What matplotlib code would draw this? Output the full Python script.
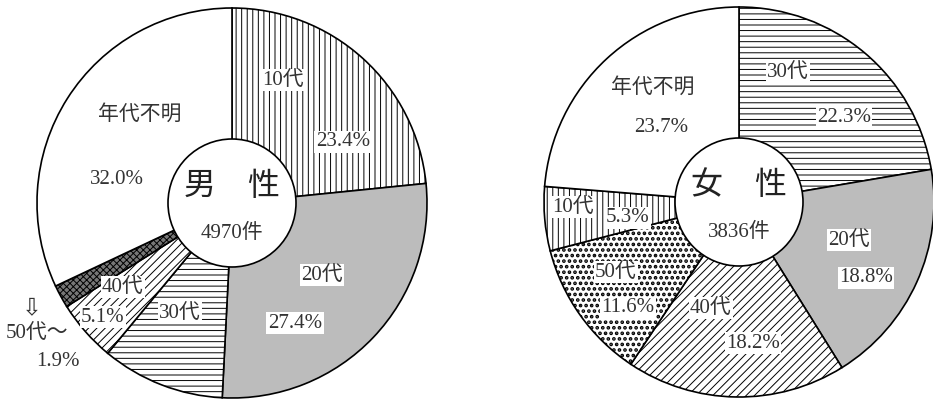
import matplotlib
matplotlib.use('Agg')
import matplotlib.pyplot as plt
from matplotlib.patches import Circle

plt.rcParams['font.family'] = ['Liberation Serif', 'Noto Sans CJK JP', 'DejaVu Sans']
plt.rcParams['hatch.linewidth'] = 0.7

# data (clockwise from 12 o'clock)
male_labels = ['10代', '20代', '30代', '40代', '50代〜', '年代不明']
male_values = [23.4, 27.4, 10.2, 5.1, 1.9, 32.0]
male_total = '4970件'

female_labels = ['30代', '20代', '40代', '50代', '10代', '年代不明']
female_values = [22.3, 18.8, 18.2, 11.6, 5.3, 23.7]
female_total = '3836件'

# fill style per age group
styles = {
    '10代': dict(facecolor='white', hatch='|||', hlw=0.7),
    '20代': dict(facecolor='#bcbcbc', hatch='', hlw=0.7),
    '30代': dict(facecolor='white', hatch='---', hlw=0.7),
    '40代': dict(facecolor='white', hatch='////', hlw=0.7),
    '50代': dict(facecolor='white', hatch='...', hlw=1.8),
    '50代〜': dict(facecolor='#777777', hatch='xxxxx', hlw=0.7),
    '年代不明': dict(facecolor='white', hatch='', hlw=0.7),
}

fig = plt.figure(figsize=(9.33, 4.01), dpi=100)
ax = fig.add_axes([0, 0, 1, 1])


def draw_donut(center, values, labels, title, total):
    wedges, _ = ax.pie(values, radius=195, center=center, startangle=90,
                       counterclock=False,
                       wedgeprops=dict(edgecolor='black', linewidth=1.2))
    for w, lab in zip(wedges, labels):
        w.set_facecolor(styles[lab]['facecolor'])
        w.set_hatch(styles[lab]['hatch'])
        if hasattr(w, 'set_hatch_linewidth'):
            w.set_hatch_linewidth(styles[lab]['hlw'])
    ax.add_patch(Circle(center, 64, facecolor='white', edgecolor='black',
                        linewidth=1.2, zorder=3))
    ax.text(center[0], center[1] + 16, title, fontsize=23, ha='center',
            va='center', color='#222222', zorder=4)
    ax.text(center[0], center[1] - 30, total, fontsize=15, ha='center',
            va='center', color='#333333', zorder=4)


def label(x, y, s):
    ax.text(x, 401 - y, s, fontsize=15, ha='center', va='center',
            color='#333333', zorder=5,
            bbox=dict(facecolor='white', edgecolor='none', pad=1.0))


draw_donut((232, 198), male_values, male_labels, '男　性', male_total)
draw_donut((739, 199), female_values, female_labels, '女　性', female_total)

label(283, 80, male_labels[0])
label(343, 142, f'{male_values[0]}%')
label(322, 275, male_labels[1])
label(295, 323, f'{male_values[1]}%')
label(180, 313, male_labels[2])
label(123, 287, male_labels[3])
label(103, 317, f'{male_values[3]}%')
label(140, 115, male_labels[5])
label(117, 180, f'{male_values[5]}%')
ax.text(32, 401 - 307, '⇩', fontsize=17, ha='center', va='center',
        family='DejaVu Sans', color='#333333')
ax.text(37, 401 - 333, male_labels[4], fontsize=15, ha='center',
        va='center', color='#333333')
ax.text(58, 401 - 362, f'{male_values[4]}%', fontsize=15, ha='center',
        va='center', color='#333333')

label(788, 72, female_labels[0])
label(844, 118, f'{female_values[0]}%')
label(849, 240, female_labels[1])
label(866, 278, f'{female_values[1]}%')
label(711, 308, female_labels[2])
label(753, 343, f'{female_values[2]}%')
label(616, 272, female_labels[3])
label(628, 308, f'{female_values[3]}%')
label(573, 207, female_labels[4])
label(628, 218, f'{female_values[4]}%')
label(653, 88, female_labels[5])
label(661, 128, f'{female_values[5]}%')

ax.set_xlim(0, 933)
ax.set_ylim(0, 401)
ax.set_aspect('equal')
ax.axis('off')

fig.savefig('out.png', dpi=100)
